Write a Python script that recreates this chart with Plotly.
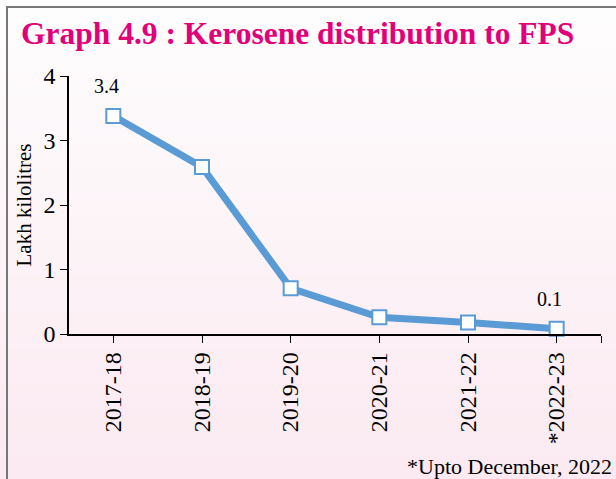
import plotly.graph_objects as go

# data
years = ['2017-18', '2018-19', '2019-20', '2020-21', '2021-22', '*2022-23']
kerosene = [3.38, 2.59, 0.71, 0.26, 0.18, 0.08]
labelled = [0, 5]  # points that carry a value label
y_ticks = [0, 1, 2, 3, 4]

W, H = 616, 479
L, R, T, B = 69, 15, 76, 145
pw, ph = W - L - R, H - T - B

def px_x(px):
    return (px - L) / pw

def px_y(py):
    return (H - B - py) / ph

blue = '#5b9bd5'
serif = 'Liberation Serif, Times New Roman, serif'

fig = go.Figure()
fig.add_trace(go.Scatter(
    x=list(range(len(years))),
    y=kerosene,
    mode='lines+markers',
    line=dict(color=blue, width=7),
    marker=dict(symbol='square', size=14, color='white',
                line=dict(color=blue, width=2)),
    cliponaxis=False,
    hoverinfo='skip'
))

# background gradient, white at top to pale pink at bottom
shapes = []
n = 40
top = (254, 253, 254)
bot = (251, 234, 241)
for i in range(n):
    f = i / (n - 1)
    c = tuple(round(top[k] + (bot[k] - top[k]) * f) for k in range(3))
    y0 = H * i / n
    y1 = H * (i + 1) / n + 1
    shapes.append(dict(type='rect', xref='paper', yref='paper',
                       x0=px_x(0), x1=px_x(W), y0=px_y(y1), y1=px_y(y0),
                       fillcolor='rgb(%d,%d,%d)' % c, line_width=0, layer='below'))

# frame lines at top and left
shapes.append(dict(type='line', xref='paper', yref='paper',
                   x0=px_x(6), x1=px_x(W), y0=px_y(7), y1=px_y(7),
                   line=dict(color='#777777', width=2)))
shapes.append(dict(type='line', xref='paper', yref='paper',
                   x0=px_x(7), x1=px_x(7), y0=px_y(7), y1=px_y(H),
                   line=dict(color='#777777', width=2)))

annotations = []
for i in labelled:
    annotations.append(dict(x=i, y=kerosene[i], text=f'{kerosene[i]:.1f}',
                            showarrow=False, xshift=-7, yshift=30,
                            font=dict(family=serif, size=20, color='black')))
annotations.append(dict(x=px_x(614), y=px_y(466), xref='paper', yref='paper',
                        text='*Upto December, 2022', showarrow=False,
                        xanchor='right', yanchor='middle',
                        font=dict(family=serif, size=22, color='black')))

fig.update_layout(
    width=W, height=H,
    margin=dict(l=L, r=R, t=T, b=B),
    paper_bgcolor='rgb(254,253,254)',
    plot_bgcolor='rgba(0,0,0,0)',
    showlegend=False,
    title=dict(text='<b>Graph 4.9 : Kerosene distribution to FPS</b>',
               x=21 / W, xref='container', xanchor='left',
               y=1 - 33 / H, yref='container', yanchor='middle',
               font=dict(family=serif, size=31.5, color='#e2007a')),
    xaxis=dict(
        range=[-0.5, 5.5],
        tickvals=list(range(len(years))) + [5.5],
        ticktext=years + [''],
        tickangle=-90,
        ticks='outside', ticklen=7, tickcolor='black',
        showline=True, linecolor='black', linewidth=1.5,
        showgrid=False, zeroline=False,
        tickfont=dict(family=serif, size=24, color='black')
    ),
    yaxis=dict(
        range=[0, 4],
        tickvals=y_ticks,
        ticks='outside', ticklen=7, tickcolor='black',
        showline=True, linecolor='black', linewidth=1.5,
        showgrid=False, zeroline=False,
        tickfont=dict(family=serif, size=24, color='black'),
        title=dict(text='Lakh kilolitres', standoff=6,
                   font=dict(family=serif, size=21, color='black'))
    ),
    shapes=shapes,
    annotations=annotations
)

fig.write_html('out.html', config={'displayModeBar': False},
               post_script="document.body.style.margin='0';document.body.style.overflow='hidden';")
